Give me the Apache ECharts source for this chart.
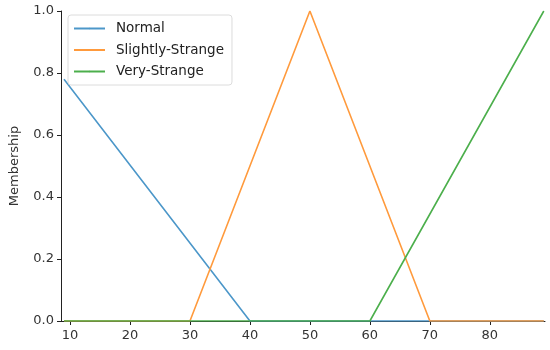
<!DOCTYPE html>
<html>
<head>
<meta charset="utf-8">
<script src="https://cdn.jsdelivr.net/npm/echarts@6/dist/echarts.min.js"></script>
<style>
  html, body { margin: 0; padding: 0; background: #fff; }
  #chart { width: 550px; height: 350px; }
</style>
</head>
<body>
<div id="chart"></div>
<script>
// membership functions
const normalX = [9, 40, 89]
const normalY = [0.78, 0, 0]
const slightX = [9, 30, 50, 70, 89]
const slightY = [0, 0, 1, 0, 0]
const veryX = [9, 60, 89]
const veryY = [0, 0, 1]
const xTicks = [10, 20, 30, 40, 50, 60, 70, 80]
const names = ['Normal', 'Slightly-Strange', 'Very-Strange']
const colors = ['#4c97c9', '#ff9a3c', '#4caf4c']

const zip = (xs, ys) => xs.map((x, i) => [x, ys[i]])
const font = 'DejaVu Sans'

const chart = echarts.init(document.getElementById('chart'))

const mkSeries = (name, data, color) => ({
    name,
    type: 'line',
    data,
    symbol: 'none',
    lineStyle: { width: 1.6, color },
    itemStyle: { color },
    animation: false
})

chart.setOption({
    animation: false,
    grid: { left: 61, right: 5, top: 11, bottom: 29, outerBoundsMode: 'none' },
    legend: {
        orient: 'vertical',
        left: 68,
        top: 15,
        data: names,
        itemWidth: 31,
        itemHeight: 2,
        itemGap: 7.5,
        padding: [6.5, 8, 6.5, 5],
        borderColor: '#dcdcdc',
        borderWidth: 1,
        borderRadius: 3,
        backgroundColor: 'rgba(255,255,255,0.85)',
        textStyle: {
            fontFamily: font, fontSize: 13.5, color: '#222',
            lineHeight: 14, padding: [0, 0, 0, 6]
        }
    },
    xAxis: {
        type: 'value',
        min: 8.5,
        max: 89.2,
        splitLine: { show: false },
        axisLine: { onZero: false, lineStyle: { color: '#222', width: 1 } },
        axisTick: { show: true, length: 4, customValues: xTicks, lineStyle: { color: '#222' } },
        axisLabel: { customValues: xTicks, fontFamily: font, fontSize: 13, color: '#333', margin: 8 }
    },
    yAxis: {
        type: 'value',
        min: 0,
        max: 1,
        interval: 0.2,
        name: 'Membership',
        nameLocation: 'middle',
        nameGap: 40,
        nameTextStyle: { fontFamily: font, fontSize: 13, color: '#333' },
        splitLine: { show: false },
        axisLine: { show: true, lineStyle: { color: '#222', width: 1 } },
        axisTick: { show: true, length: 4, lineStyle: { color: '#222' } },
        axisLabel: {
            fontFamily: font, fontSize: 13, color: '#333', margin: 7,
            formatter: v => v.toFixed(1)
        }
    },
    series: [
        mkSeries(names[0], zip(normalX, normalY), colors[0]),
        mkSeries(names[1], zip(slightX, slightY), colors[1]),
        mkSeries(names[2], zip(veryX, veryY), colors[2])
    ]
})
</script>
</body>
</html>
